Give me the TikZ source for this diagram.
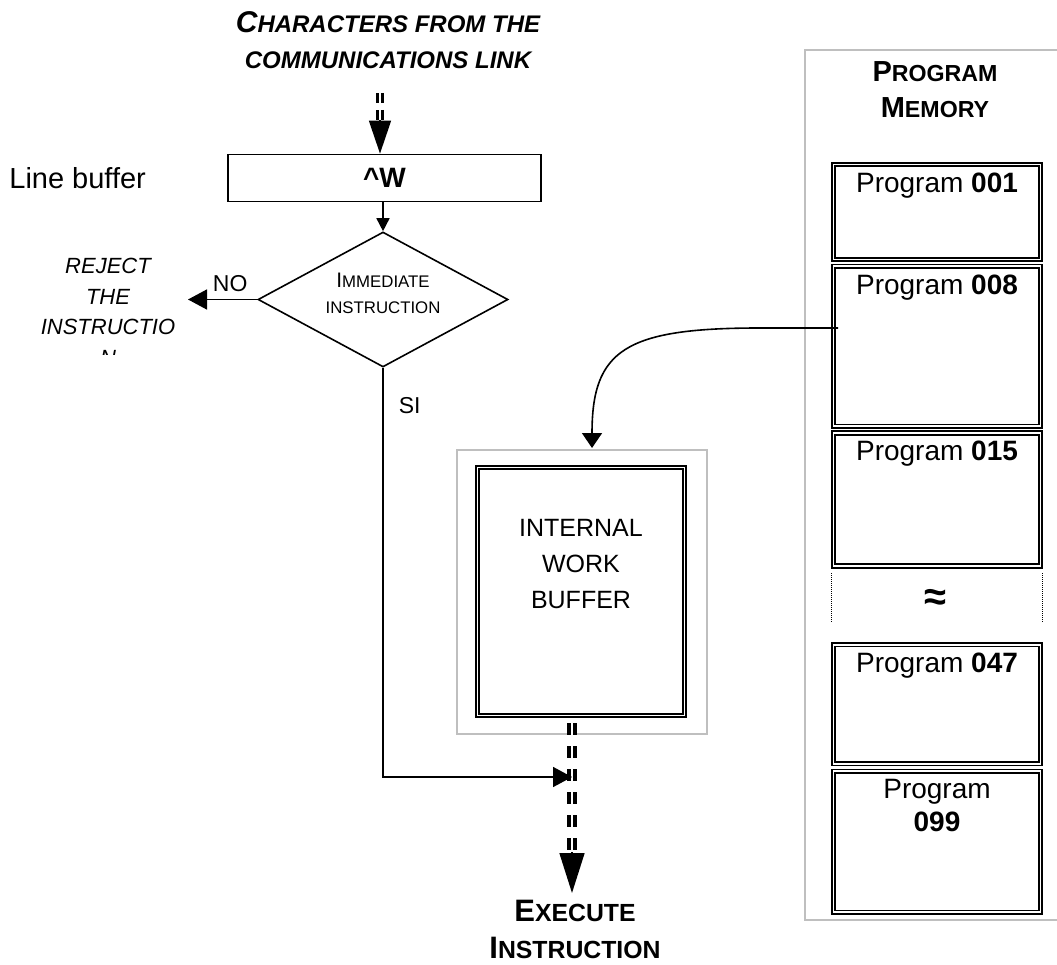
\documentclass[tikz,border=0pt]{standalone}
\usepackage{fontspec}
\setmainfont{Liberation Sans}
\usetikzlibrary{arrows.meta,positioning,shapes.geometric}

\newcommand{\smc}[1]{\scalebox{0.8}{#1}}
\newcommand{\fsz}[2]{\fontsize{#1}{#2}\selectfont}

\begin{document}
\begin{tikzpicture}[x=1pt, y=-1pt,
  lbl/.style={inner sep=0pt, align=center},
  conn/.style={line width=1.6pt},
  frame/.style={draw=black!25, line width=1.8pt},
  buffbox/.style={draw, line width=1.8pt, inner sep=0pt},
  dblbox/.style={draw, double, line width=1.8pt, double distance=1.6pt, inner sep=0pt},
  progbox/.style={draw, double, line width=1.7pt, double distance=1.8pt, inner sep=0pt, minimum width=207pt},
  proglbl/.style={anchor=north, inner sep=0pt, yshift=-9pt, align=center, font=\fsz{28}{33}},
  feeddash/.style={draw, double, line width=3pt, double distance=1.5pt, dash pattern=on 10pt off 7pt},
  execdash/.style={draw, double, line width=4pt, double distance=2pt, dash pattern=on 12pt off 11pt},
  sep/.style={densely dotted, line width=1pt},
  smalltip/.style={-{Triangle[length=13pt,width=13pt]}},
  sidetip/.style={-{Triangle[length=19pt,width=20pt]}},
  feedtip/.style={-{Triangle[length=33pt,width=22pt]}},
  exectip/.style={-{Triangle[length=40pt,width=25pt]}},
  curvetip/.style={-{Triangle[length=15pt,width=20pt]}}]

  \useasboundingbox (0,0) rectangle (1057,965);

  % incoming characters
  \node[lbl, anchor=north, font=\fsz{30}{36}\bfseries\itshape] (title) at (388,11)
    {C\smc{HARACTERS FROM THE}\\\smc{COMMUNICATIONS LINK}};
  \coordinate (feed) at (380,93);

  % line buffer and test
  \node[buffbox, minimum width=313pt, minimum height=47pt, font=\fsz{28}{28}\bfseries] (linebuf) at (384.5,178) {\textasciicircum W};
  \node[lbl, left=81pt of linebuf, font=\fsz{29}{29}] (lbtxt) {Line buffer};
  \node[diamond, draw, line width=1.6pt, inner sep=0pt, aspect=1.85, minimum width=250pt, minimum height=135pt] (imm) at (383,299.5) {};
  \node[lbl, yshift=6pt, font=\fsz{21}{26}] (immtxt) at (imm.center) {I\smc{MMEDIATE}\\\smc{INSTRUCTION}};

  \draw[feeddash, shorten >=33pt] (feed) -- (feed |- linebuf.north);
  \draw[conn, feedtip] (feed |- linebuf.north) ++(0,-34) -- (feed |- linebuf.north);
  \draw[conn, smalltip] (imm.north |- linebuf.south) -- (imm.north);

  % rejected
  \coordinate (nohead) at (188,299.5);
  \draw[conn, sidetip] (imm.west) -- node[lbl, pos=0.39, above=7pt, font=\fsz{23}{23}] (no) {NO} (nohead);
  \begin{scope}
    \clip (0,240) rectangle (230,355);
    \node[lbl, anchor=north, font=\fsz{22}{30.5}\itshape] (reject) at (108,258) {REJECT\\THE\\INSTRUCTIO\\N};
  \end{scope}

  % internal work buffer
  \draw[frame] (457,450) rectangle (707,734);
  \node[dblbox, minimum width=207pt, minimum height=248pt] (wbuf) at (581,591.5) {};
  \node[lbl, below=52.5pt of wbuf.north, font=\fsz{25}{36}] (wbuftxt) {INTERNAL\\WORK\\BUFFER};

  % execution
  \coordinate (exectop) at (572,723);
  \coordinate (join) at (572,777);
  \coordinate (execend) at (572,893);
  \draw[execdash, shorten >=40pt] (exectop) -- (execend);
  \draw[conn, exectip] (execend) ++(0,-41) -- (execend);
  \draw[conn, sidetip] (imm.south) |- node[lbl, pos=0.046, right=15pt, font=\fsz{23}{23}] (si) {SI} (join);
  \node[lbl, below=7pt of execend, xshift=3pt, font=\fsz{31}{37}\bfseries] (exec) {E\smc{XECUTE}\\I\smc{NSTRUCTION}};

  % program memory
  \draw[frame] (1057,50) -- (805,50) -- (805,920) -- (1057,920);
  \node[lbl, anchor=north, font=\fsz{29}{36}\bfseries] (pmhead) at (935,61) {P\smc{ROGRAM}\\M\smc{EMORY}};
  \node[progbox, minimum height=95pt, label={[proglbl]north:Program \textbf{001}}] (p001) at (937,212) {};
  \node[progbox, minimum height=160pt, below=5pt of p001, label={[proglbl]north:Program \textbf{008}}] (p008) {};
  \node[progbox, minimum height=133pt, below=5pt of p008, label={[proglbl]north:Program \textbf{015}}] (p015) {};
  \node[progbox, minimum height=119pt, below=77pt of p015, label={[proglbl]north:Program \textbf{047}}] (p047) {};
  \node[progbox, minimum height=141pt, below=6pt of p047, label={[proglbl]north:Program\\\textbf{099}}] (p099) {};
  \draw[sep] (831,573) -- (831,622);
  \draw[sep] (1042,573) -- (1042,622);
  \node[lbl, font=\fsz{40}{40}\bfseries] (gap) at (935,600) {≈};

  % program loaded into the work buffer
  \coordinate (src) at (838,328);
  \coordinate (dst) at (592,448);
  \draw[conn, curvetip] (src) -- ++(-78,0) .. controls +(-135,0) and +(0,-98) .. (dst);
\end{tikzpicture}
\end{document}
